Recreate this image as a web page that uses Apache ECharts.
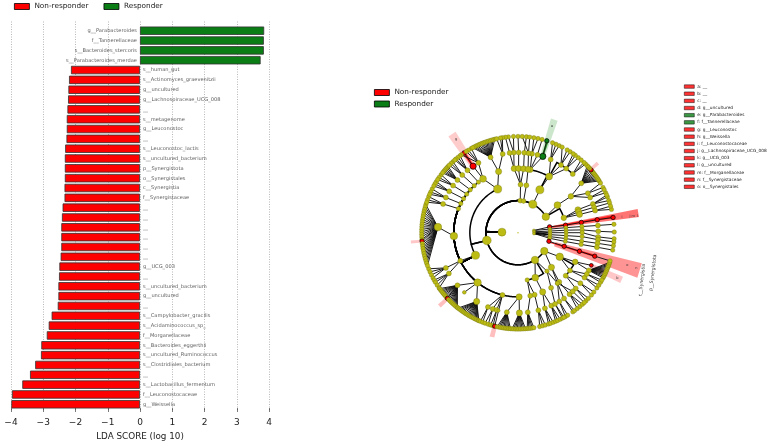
<!DOCTYPE html>
<html><head><meta charset="utf-8">
<style>html,body{margin:0;padding:0;background:#fff}#c{width:769px;height:442px}</style>
<script src="https://cdn.jsdelivr.net/npm/echarts@6/dist/echarts.min.js"></script>
</head><body><div id="c"></div>
<script>
const categories = ["g__Parabacteroides","f__Tannerellaceae","s__Bacteroides_stercoris","s__Parabacteroides_merdae","s__human_gut","s__Actinomyces_graevenitzii","g__uncultured","g__Lachnospiraceae_UCG_008","__","s__metagenome","g__Leuconostoc","__","s__Leuconostoc_lactis","s__uncultured_bacterium","p__Synergistota","o__Synergistales","c__Synergistia","f__Synergistaceae","__","__","__","__","__","__","g__UCG_003","__","s__uncultured_bacterium","g__uncultured","__","s__Campylobacter_gracilis","s__Acidaminococcus_sp_","f__Morganellaceae","s__Bacteroides_eggerthii","s__uncultured_Ruminococcus","s__Clostridiales_bacterium","__","s__Lactobacillus_fermentum","f__Leuconostocaceae","g__Weissella"];
const ldaScores = [3.85,3.84,3.84,3.74,-2.14,-2.2,-2.22,-2.23,-2.25,-2.27,-2.27,-2.28,-2.32,-2.33,-2.33,-2.33,-2.34,-2.34,-2.4,-2.42,-2.44,-2.44,-2.44,-2.46,-2.5,-2.51,-2.53,-2.53,-2.55,-2.74,-2.83,-2.89,-3.06,-3.07,-3.25,-3.41,-3.65,-3.97,-3.99];
const xTicks = [-4,-3,-2,-1,0,1,2,3,4];
const groupNames = ["Non-responder","Responder"];
const cladeLegend = ["a: __","b: __","c: __","d: g__uncultured","e: g__Parabacteroides","f: f__Tannerellaceae","g: g__Leuconostoc","h: g__Weissella","i: f__Leuconostocaceae","j: g__Lachnospiraceae_UCG_008","k: g__UCG_003","l: g__uncultured","m: f__Morganellaceae","n: f__Synergistaceae","o: o__Synergistales"];
const cladeLegendGroup = [0,0,0,0,1,1,0,0,0,0,0,0,0,0,0];

// clade tree: [angle in degrees, children, node size]; a bare number is an outer-ring leaf
const cladeTree = [
 [178,[
  [30,[
   [35,[
    [34.5,[
     [38,[32.5,33.5,34.5,35.5,36.5,37.5,38.5,39.5,40.7,42,43,44]],
     [29.5,[28,31]],
     [26,[24.5,26.5]]
    ],4.5]
   ],5.5],
   [18,[
    [21,[[21,[19.5,21.8,23]]]],
    [19,[[18.5,[18]]]],
    [16.5,[[16,[14,16]]]]
   ],4.5]
  ],6],
  [62.5,[
   [63,[
    [61,[
     [66,[64.7,66.8,69]],
     [57.6,[57.2,59.3,62.7]],
     [53,[51.2,53.4,55]],
     [47,[45.5,46.8,49]]
    ],5.5],
    [79,[
     [72,[72.6],5],
     [80,[78,80.5]],
     [76,[75.5]]
    ],4.5]
   ],6.5]
  ],6.5],
  [86,[[87,[
    [93.5,[[93,[92.7,95.7]],[96,[97.5]]]],
    [89.5,[[89.5,[90]]]],
    [85,[[85.5,[85]]]]
   ],4]],3.8],
  [80,[[80,[[81,[[82.5,[83,87.5]]]]],4]],3.8],
  [194,[
   [115,[
    [123,[
     [124,[124],5],
     [119.5,[119,121,122.5,126]]
    ],5.5],
    [107.6,[
     [110,[104,105,106,107,108,109,110,111,112,113,114,115,116,117,118]],
     [101,[99.3,100.5,102.8]]
    ],5]
   ],6.5],
   [208,[
    [206,[
     [206,[202,204,206,208]],
     [210.5,[209.5,211,213,215]]
    ],4],
    [183,[
     [176,[163,164.5,166,167.5,169,170.5,172,173.5,175,176.5,178,179.5,181,182.5,184,185,186.5,188,189.5,191,192.5,194,195.5,197,198.5,200],6]
    ],6],
    [231,[
     [221,[215.5,216.5,217.5,218.5,219.5,220.5,221.5,222.5,223,224,225,226,227,228,229,230,231]],
     [228,[],3],
     [239,[231.5,232.5,233.5,234.5,235.5,236.5,237.5,238.5,239.5,240.5,241.5,242.5,243.5,244.5,245.5,246],5]
    ],6],
    [256,[
     [248,[247,248.5]],
     [251.7,[250,252]],
     [254.6,[253.5,255]],
     [256,[256],2.5]
    ],4],
    [271,[
     [262,[257.5,258.5,259.5,260.5,261.5,262.5,263.5,264.5,265.5]],
     [271,[266.5,267.5,268.5,269.5,270.5,271.5,272.5,273.5,274.5],5]
    ],5],
    [158,[[159,[158,160,161.5]]],3.5],
    [153,[[154,[153,155,156.5]]],3.5],
    [148,[[149,[148,149.5,151]]],3.5],
    [143,[[144,[143,145,146.5]]],3.5],
    [138,[[139,[136.5,137.5,138.5,139.5,140.5,141.5]]],3.5],
    [133,[[134,[132.5,134,135.5]]],3.5],
    [128,[[129,[127,128.5,130,131]]],3.5]
   ],6.5]
  ],7],
  [302,[
   [281,[
    [281,[[277,[275.5,276.5,277.5,278.5,279.5]]],4],
    [285,[[284.7,[283,284.8,286.5]]],4]
   ],3.5],
   [291,[
    [292.6,[[289.6,[288.5,289.8,291.5]],[294.5,[293,294.3,296]]],5]
   ],5.5],
   [307,[
    [308,[[305,[304.7,306]],[301,[299.5,301]]],3.5],
    [301,[[297.5,[297.5,298.5]]],4]
   ],3.5]
  ],6],
  [325,[
   [330,[
    [333,[[332,[332,333,334,335,336,337,338,339,340,341,342]],[336,[],3]],4.5],
    [324,[[326,[325,327]],[329,[329,330.5]]],4],
    [318,[[316,[315,317]],[321,[319.7,322]]],4]
   ],6],
   [314,[
    [310,[[310,[308,310,312]]],4],
    [308,[[313,[313.5]]],3.5]
   ],5]
  ],6]
 ],8],
 [8,[
  [10.5,[[9,[[9.2,[[9.3,[9.1],3.5]],3.5]],3.5]],3.5],
  [6.5,[[6,[[5.5,[[5.2,[5]]],3.5]],3.2]],3]
 ],3],
 [3,[
  [3,[[3,[[2.5,[[1,[0.4]]],3.5]],3.2]],3],
  [0,[[0,[[0,[[-3,[-3.6]]],3.5]],3.2]],3],
  [-3.5,[[-3.5,[[-3.5,[[-5,[-5.5]]],3.5]],3.2]],3]
 ],3],
 [-3,[
  [-7,[[-7,[[-7.5,[[-7.6,[-7.8]]],3.5]],3.2]],3],
  [-10,[[-10.5,[[-10.5,[[-10.4,[-10.4]]],3.5]],3.2]],3],
  [-15.5,[[-16.4,[[-16.8,[[-17,[-17],3.5]],3.5]],3.5]],3.5]
 ],3]
];
const redNodes = ["2:10.5","3:9","4:9.2","5:9.3","6:9.1","2:-15.5","3:-16.4","4:-16.8","5:-17","5:336","6:40.7","6:185","6:223","6:256","5:124","6:124"];
const greenNodes = ["5:72","6:72.6"];

// highlight bands: [centre angle, half width, start level, end level, colour, opacity]
const wedges = [
 [9.3,1.9,2,7.6,"#ff0000",0.55],[9.6,0.9,2,6,"#ff0000",0.75],
 [-17.3,3.4,2.4,7.95,"#ff0000",0.42],[-16.8,0.8,2,5,"#ff0000",0.85],
 [-24.5,1.7,5,7.1,"#ff0000",0.22],
 [123.8,2.1,5,7.4,"#ff0000",0.2],[124,0.9,5,6,"#ff0000",0.8],
 [72.2,1.7,5,7.4,"#008000",0.2],[72.2,0.7,5,6,"#008000",0.8],
 [41,1,6,6.6,"#ff0000",0.22],[185,0.8,6,6.7,"#ff0000",0.22],[223,1.1,6,6.7,"#ff0000",0.25],[256,1.3,6,6.7,"#ff0000",0.25]
];
// text on the cladogram: [level, angle, text, rotation, font size]
const cladeTexts = [
 [6.55,8.6,"i",0,3.5],[7.05,8.6,"j",0,3.5],[7.25,8,"m",0,3.5],[7.5,7.8,"l",0,3.5],
 [7.1,-16.5,"o",0,3.5],[7.7,-16.8,"n",0,3.5],[6.8,-24.5,"b",0,3.5],[7.0,123.5,"g",0,3.5],[7,72.4,"e",0,3.5],
 [8.77,-16.5,"p__Synergistota",83,4.6],[8.27,-20.9,"c__Synergistia",83,4.6]
];
const levelSizes = [0,4,8,7,6,5,4.4];
const overrideScale = 1.25;
const rootDot = 1.6;

const nodes = [], links = [];
function walk(item, level, parent){
  const isLeaf = typeof item === "number";
  const a = isLeaf ? item : item[0];
  const kids = isLeaf ? [] : item[1];
  const size = isLeaf || item[2] === undefined ? levelSizes[level] : item[2] * (level > 1 ? overrideScale : 1);
  const key = level + ":" + a;
  nodes.push({a, level, size, cls: redNodes.includes(key) ? 1 : greenNodes.includes(key) ? 2 : 0});
  if (parent) links.push([parent.level, parent.a, level, a]);
  kids.forEach(k => walk(k, level + 1, {level, a}));
}
cladeTree.forEach(n => walk(n, 1, null));
const norm = a => ((a % 360) + 360) % 360;

const colors = ["#ff0000","#0a7d14"];
const dummy = cladeLegend.map((n,i)=>({type:"scatter",name:n,data:[],xAxisIndex:0,yAxisIndex:0,itemStyle:{color:colors[cladeLegendGroup[i]]}}));

const option = {
  animation:false,
  textStyle:{fontFamily:"DejaVu Sans"},
  legend:[
   {left:14,top:3,padding:0,data:groupNames,itemWidth:15,itemHeight:6,itemGap:15,icon:"rect",selectedMode:false,
    itemStyle:{borderColor:"#000",borderWidth:0.8},textStyle:{fontSize:7.3,color:"#222"}},
   {left:374,top:89,padding:0,orient:"vertical",data:groupNames,itemWidth:15,itemHeight:6,itemGap:4.5,icon:"rect",selectedMode:false,
    itemStyle:{borderColor:"#000",borderWidth:0.8},textStyle:{fontSize:7.3,color:"#222"}},
   {left:684,top:84.5,padding:0,orient:"vertical",data:cladeLegend,itemWidth:10,itemHeight:3.5,itemGap:3.06,itemStyle:{borderColor:"#000",borderWidth:0.6},
    icon:"rect",selectedMode:false,textStyle:{fontSize:4.3,color:"#222",lineHeight:4,padding:[0,0,0,-2]}}
  ],
  grid:[
   {left:11,width:258,top:25.8,height:383.4,outerBoundsMode:"none"},
   {left:11,width:258,top:21.5,height:388.5,outerBoundsMode:"none"}
  ],
  xAxis:[
   {gridIndex:0,type:"value",min:-4,max:4,interval:1,position:"bottom",offset:0.8,
    name:"LDA SCORE (log 10)",nameLocation:"middle",nameGap:19.5,nameTextStyle:{fontSize:8.8,color:"#222"},
    axisLine:{show:false},axisTick:{show:true,inside:true,length:2,lineStyle:{color:"#222",width:0.6}},
    splitLine:{show:false},
    axisLabel:{fontSize:9,color:"#222",margin:8,showMinLabel:true,showMaxLabel:true,formatter:v=>String(v).replace("-","\u2212")}},
   {gridIndex:1,type:"value",min:-4,max:4,interval:1,position:"top",axisLine:{show:false},axisLabel:{show:false},
    axisTick:{show:true,inside:true,length:2,lineStyle:{color:"#222",width:0.6}},
    splitLine:{show:true,lineStyle:{color:"#9a9a9a",width:0.7,type:[1,1.5]}}}
  ],
  yAxis:[
   {gridIndex:0,type:"category",data:categories.map((c,i)=>i),inverse:true,show:false},
   {gridIndex:1,type:"value",min:0,max:1,show:false}
  ],
  polar:{center:[518,232.7],radius:160.5},
  angleAxis:{type:"value",min:0,max:360,startAngle:0,clockwise:false,show:false},
  radiusAxis:{type:"value",min:0,max:10,show:false},
  series:[
   {type:"bar",name:groupNames[0],data:ldaScores.map(v=>v<0?v:null),barWidth:8.4,barGap:"-100%",z:2,
    itemStyle:{color:colors[0],borderColor:"#333",borderWidth:0.8}},
   {type:"bar",name:groupNames[1],data:ldaScores.map(v=>v>0?v:null),barWidth:8.4,barGap:"-100%",z:2,
    itemStyle:{color:colors[1],borderColor:"#333",borderWidth:0.8}},
   {type:"scatter",name:"labels",symbolSize:0.1,z:5,itemStyle:{color:"transparent"},
    data:categories.map((c,i)=>({value:[0,i],label:{show:true,formatter:c,position:ldaScores[i]>0?"left":"right",distance:3,fontSize:5.1,color:"#333"}}))},
   {type:"scatter",name:"grid",xAxisIndex:1,yAxisIndex:1,data:[],z:3},
   ...dummy,
   {type:"custom",name:"wedges",coordinateSystem:"polar",z:1,silent:true,
    data:wedges.map(w=>[w[2],norm(w[0]),w[1],w[3]]),
    renderItem:(p,api)=>{
      const w=wedges[p.dataIndex];
      const pts=[api.coord([w[2],norm(w[0]-w[1])]),api.coord([w[3],norm(w[0]-w[1])]),api.coord([w[3],norm(w[0]+w[1])]),api.coord([w[2],norm(w[0]+w[1])])];
      return {type:"polygon",shape:{points:pts},style:{fill:w[4],opacity:w[5]}};
    }},
   {type:"custom",name:"links",coordinateSystem:"polar",z:3,silent:true,
    data:links.map(l=>[l[0],norm(l[1]),l[2],norm(l[3])]),
    renderItem:(p,api)=>{
      const [l0,a0,l1,a1]=links[p.dataIndex];
      const d=a1-a0, curved=l1<6 && Math.abs(d)>=12;
      const pts=[api.coord([l0,norm(a0)])];
      if(curved){ const n=Math.ceil(Math.abs(d)); for(let i=0;i<=n;i++) pts.push(api.coord([l1,norm(a0+d*i/n)])); }
      else pts.push(api.coord([l1,norm(a1)]));
      return {type:"polyline",shape:{points:pts},style:{fill:null,stroke:curved?"#000":"#111",lineWidth:curved?1.5:0.95}};
    }},
   {type:"scatter",name:"clades",coordinateSystem:"polar",z:4,silent:true,
    data:[{value:[0,0],symbolSize:rootDot,itemStyle:{color:"#b8b814",borderWidth:0}}].concat(nodes.map(n=>({value:[n.level,norm(n.a)],symbolSize:n.size,
      itemStyle:{color:["#bcbc14","#ff0000","#0a7d14"][n.cls],borderColor:n.cls?"#000":"#6b6b10",borderWidth:n.cls?0.7:0.35,opacity:1}})))},
   {type:"custom",name:"cladeTexts",coordinateSystem:"polar",z:6,silent:true,
    data:cladeTexts.map(t=>[t[0],norm(t[1])]),
    renderItem:(p,api)=>{
      const t=cladeTexts[p.dataIndex], c=api.coord([t[0],norm(t[1])]);
      return {type:"text",x:c[0],y:c[1],rotation:t[3]*Math.PI/180,style:{text:t[2],fontSize:t[4],fontFamily:"DejaVu Sans",fill:"#333",align:"center",verticalAlign:"middle"}};
    }}
  ]
};
const chart = echarts.init(document.getElementById("c"),null,{width:769,height:442});
chart.setOption(option);
</script></body></html>
